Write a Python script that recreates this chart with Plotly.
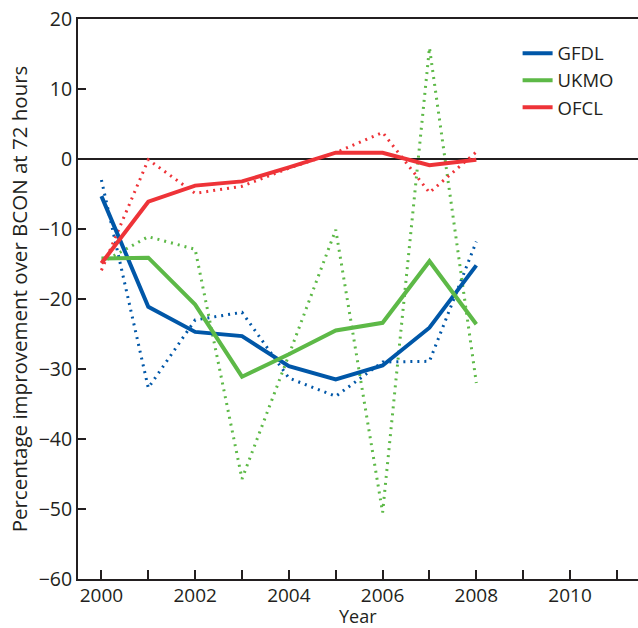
import plotly.graph_objects as go

years = [2000, 2001, 2002, 2003, 2004, 2005, 2006, 2007, 2008]

gfdl_solid = [-5.3, -21.1, -24.7, -25.3, -29.6, -31.5, -29.5, -24.1, -15.2]
ukmo_solid = [-14.2, -14.1, -20.8, -31.1, -27.9, -24.5, -23.4, -14.6, -23.6]
ofcl_solid = [-14.9, -6.1, -3.8, -3.2, -1.2, 0.9, 0.9, -0.9, -0.1]

gfdl_dot = [-3.0, -32.7, -23.0, -21.9, -31.3, -33.9, -29.0, -28.9, -11.8]
ukmo_dot = [-14.8, -11.1, -12.9, -45.7, -28.0, -10.1, -50.5, 15.9, -32.0]
ofcl_dot = [-15.9, -0.1, -4.9, -3.9, -1.3, 0.9, 3.8, -4.8, 1.0]

names = ["GFDL", "UKMO", "OFCL"]
colors = ["#0057A8", "#5DB947", "#EE3338"]
TXT = "#231F20"
FONT = "Open Sans"

fig = go.Figure()
for dots, c in zip([gfdl_dot, ukmo_dot, ofcl_dot], colors):
    fig.add_trace(go.Scatter(x=years, y=dots, mode="lines", showlegend=False,
                             line=dict(color=c, width=3, dash="2px,5px")))
for vals, n, c in zip([gfdl_solid, ukmo_solid, ofcl_solid], names, colors):
    fig.add_trace(go.Scatter(x=years, y=vals, mode="lines", name=n,
                             line=dict(color=c, width=4)))

fig.update_layout(
    width=638, height=628,
    margin=dict(l=78, r=0, t=19, b=49),
    paper_bgcolor="white", plot_bgcolor="white",
    font=dict(family=FONT, size=19.5, color=TXT),
    legend=dict(x=0.785, y=0.972, xanchor="left", yanchor="top",
                bgcolor="rgba(0,0,0,0)", font=dict(size=18.5, color=TXT),
                tracegroupgap=0, itemwidth=30),
    xaxis=dict(range=[1999.5, 2011.45], tick0=2000, dtick=2, automargin=False,
               ticks="inside", ticklen=9, tickwidth=1.5, tickcolor=TXT,
               tickfont=dict(size=19), ticklabelstandoff=-2,
               minor=dict(dtick=1, ticks="inside", ticklen=9, tickwidth=1.5, tickcolor=TXT),
               showline=True, linecolor=TXT, linewidth=2, mirror=True,
               showgrid=False, zeroline=False),
    yaxis=dict(range=[-60, 20], dtick=10, automargin=False,
               ticks="inside", ticklen=8, tickwidth=1.5, tickcolor=TXT,
               showline=True, linecolor=TXT, linewidth=2,
               showgrid=False, zeroline=True, zerolinecolor=TXT, zerolinewidth=1.5,
               title=dict(text="Percentage improvement over BCON at 72 hours",
                          standoff=5, font=dict(size=20.5, color=TXT))),
    annotations=[dict(text="Year", xref="paper", yref="paper", x=0.5, y=-0.0665,
                      xanchor="center", yanchor="middle", showarrow=False,
                      font=dict(size=18, color=TXT))],
)

fig.write_html("out.html")
